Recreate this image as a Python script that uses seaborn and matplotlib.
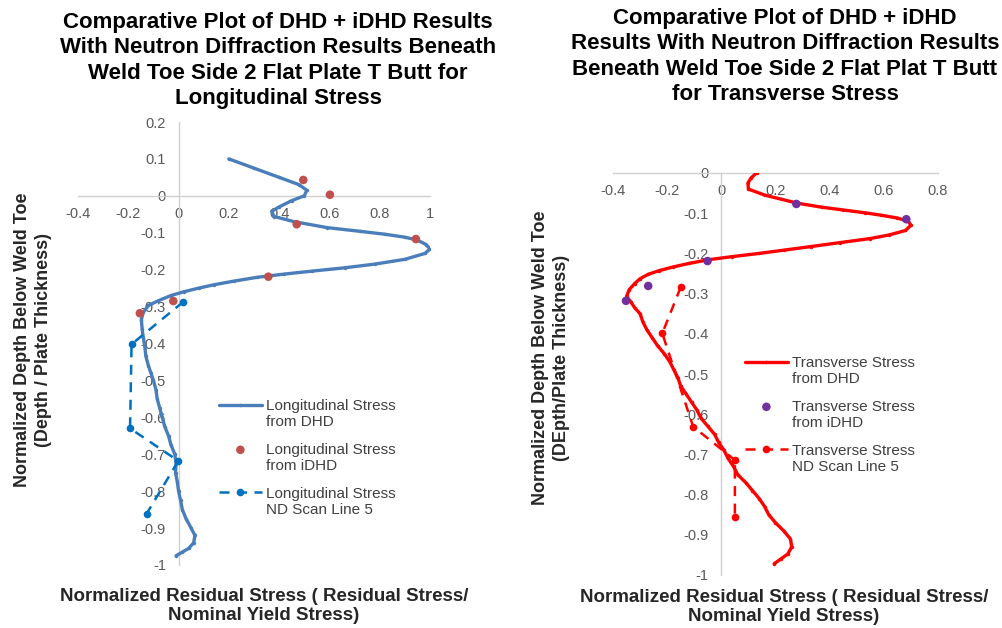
import matplotlib
matplotlib.use("Agg")
import matplotlib.pyplot as plt
from matplotlib.lines import Line2D
from matplotlib.collections import PathCollection
import numpy as np
import seaborn as sns
import pandas as pd

sns.set_theme(style="white")
plt.rcParams["font.family"] = ["Liberation Sans", "DejaVu Sans"]

# ---- Longitudinal stress (left panel) ----
long_dhd_x = [0.20, 0.30, 0.40, 0.48, 0.51, 0.50, 0.45, 0.40, 0.37, 0.38, 0.46, 0.59, 0.72, 0.82,
              0.90, 0.95, 0.985, 1.00, 0.98, 0.90, 0.78, 0.66, 0.53, 0.42, 0.31, 0.22, 0.14, 0.08,
              0.02, -0.03, -0.08, -0.12, -0.14, -0.148, -0.145, -0.14, -0.134, -0.13, -0.12, -0.11,
              -0.10, -0.09, -0.085, -0.075, -0.065, -0.055, -0.04, -0.03, -0.015, -0.01, -0.012,
              -0.005, 0.0, 0.008, 0.015, 0.03, 0.05, 0.065, 0.06, 0.04, 0.015, -0.01]
long_dhd_y = [0.10, 0.075, 0.05, 0.03, 0.015, 0.0, -0.013, -0.03, -0.042, -0.056, -0.070, -0.086,
              -0.096, -0.104, -0.112, -0.120, -0.132, -0.144, -0.156, -0.172, -0.185, -0.195,
              -0.204, -0.212, -0.221, -0.231, -0.241, -0.250, -0.260, -0.270, -0.284, -0.297,
              -0.315, -0.335, -0.36, -0.385, -0.41, -0.435, -0.46, -0.48, -0.50, -0.525, -0.55,
              -0.575, -0.60, -0.625, -0.65, -0.675, -0.70, -0.725, -0.75, -0.775, -0.80, -0.825,
              -0.85, -0.875, -0.90, -0.92, -0.94, -0.955, -0.965, -0.975]
long_idhd_x = [0.496, 0.602, 0.47, 0.944, 0.357, -0.021, -0.154]
long_idhd_y = [0.043, 0.003, -0.077, -0.117, -0.219, -0.285, -0.318]
long_nd_x = [0.019, -0.187, -0.193, -0.001, -0.127]
long_nd_y = [-0.287, -0.402, -0.63, -0.718, -0.861]

# ---- Transverse stress (right panel) ----
tran_dhd_x = [0.13, 0.11, 0.098, 0.10, 0.16, 0.28, 0.37, 0.45, 0.53, 0.59, 0.65, 0.69, 0.70, 0.68,
              0.62, 0.55, 0.44, 0.33, 0.23, 0.14, 0.04, -0.05, -0.12, -0.18, -0.23, -0.27, -0.30,
              -0.32, -0.34, -0.35, -0.335, -0.32, -0.30, -0.29, -0.275, -0.255, -0.235, -0.21,
              -0.19, -0.175, -0.16, -0.15, -0.13, -0.11, -0.09, -0.075, -0.05, -0.025, -0.01,
              0.01, 0.025, 0.045, 0.06, 0.09, 0.115, 0.14, 0.16, 0.175, 0.20, 0.23, 0.255, 0.26,
              0.245, 0.22, 0.195]
tran_dhd_y = [0.0, -0.012, -0.025, -0.040, -0.055, -0.075, -0.085, -0.092, -0.099, -0.105, -0.112,
              -0.12, -0.13, -0.143, -0.154, -0.163, -0.173, -0.183, -0.192, -0.20, -0.208, -0.216,
              -0.225, -0.234, -0.243, -0.252, -0.263, -0.275, -0.29, -0.307, -0.32, -0.335, -0.35,
              -0.37, -0.39, -0.41, -0.43, -0.45, -0.47, -0.49, -0.51, -0.53, -0.55, -0.57, -0.59,
              -0.61, -0.63, -0.65, -0.67, -0.69, -0.71, -0.73, -0.75, -0.77, -0.79, -0.81, -0.83,
              -0.85, -0.87, -0.89, -0.91, -0.93, -0.948, -0.96, -0.972]
tran_idhd_x = [0.277, 0.683, -0.051, -0.27, -0.352]
tran_idhd_y = [-0.077, -0.115, -0.219, -0.281, -0.318]
tran_nd_x = [-0.15, -0.218, -0.104, 0.05, 0.05]
tran_nd_y = [-0.284, -0.399, -0.631, -0.714, -0.855]

left_xticks = [-0.4, -0.2, 0, 0.2, 0.4, 0.6, 0.8, 1]
left_yticks = [0.2, 0.1, 0, -0.1, -0.2, -0.3, -0.4, -0.5, -0.6, -0.7, -0.8, -0.9, -1]
right_xticks = [-0.4, -0.2, 0, 0.2, 0.4, 0.6, 0.8]
right_yticks = [0, -0.1, -0.2, -0.3, -0.4, -0.5, -0.6, -0.7, -0.8, -0.9, -1]

W, H = 1003, 628
fig = plt.figure(figsize=(W / 100, H / 100), dpi=100)
fig.patch.set_facecolor("white")

ax1 = fig.add_axes([78 / W, 1 - 565 / H, 352 / W, 443 / H])
ax2 = fig.add_axes([613 / W, 1 - 575 / H, 325 / W, 402 / H])

AXIS_GREY = "#D0D0D0"
TICK_GREY = "#595959"
TEXT_DARK = "#404040"
LABEL_DARK = "#262626"


def fmt(v):
    return f"{v:g}"


def style_axes(ax, xticks, yticks, xlim, ylim):
    ax.set_xlim(*xlim)
    ax.set_ylim(*ylim)
    for side in ["top", "right"]:
        ax.spines[side].set_visible(False)
    for side in ["left", "bottom"]:
        ax.spines[side].set_position(("data", 0))
        ax.spines[side].set_color(AXIS_GREY)
        ax.spines[side].set_linewidth(1.0)
    ax.set_xticks(xticks)
    ax.set_yticks(yticks)
    ax.set_xticklabels([fmt(v) for v in xticks])
    ax.set_yticklabels([fmt(v) for v in yticks])
    ax.tick_params(axis="both", length=0, labelsize=10.5, colors=TICK_GREY)
    ax.tick_params(axis="x", pad=8)
    ax.tick_params(axis="y", pad=9)
    ax.set_xlabel("")
    ax.set_ylabel("")
    ax.grid(False)
    ax.set_facecolor("none")


def draw_panel(ax, dhd_x, dhd_y, idhd_x, idhd_y, nd_x, nd_y, c_dhd, c_idhd, c_nd, names):
    dhd = pd.DataFrame({"x": dhd_x, "y": dhd_y})
    idhd = pd.DataFrame({"x": idhd_x, "y": idhd_y})
    nd = pd.DataFrame({"x": nd_x, "y": nd_y})
    sns.lineplot(data=dhd, x="x", y="y", sort=False, estimator=None, ax=ax, color=c_dhd,
                 linewidth=2.4, marker="o", markersize=2.5, markeredgewidth=0,
                 label=names[0], zorder=3)
    sns.scatterplot(data=idhd, x="x", y="y", ax=ax, color=c_idhd, s=38, edgecolor="none",
                    label=names[1], zorder=4)
    sns.lineplot(data=nd, x="x", y="y", sort=False, estimator=None, ax=ax, color=c_nd,
                 linewidth=1.8, linestyle=(0, (4, 3)), marker="o", markersize=5.5,
                 markeredgewidth=0, label=names[2], zorder=5)


draw_panel(ax1, long_dhd_x, long_dhd_y, long_idhd_x, long_idhd_y, long_nd_x, long_nd_y,
           "#4A7EBB", "#C0504D", "#0070C0",
           ["Longitudinal Stress\nfrom DHD", "Longitudinal Stress\nfrom iDHD",
            "Longitudinal Stress\nND Scan Line 5"])
draw_panel(ax2, tran_dhd_x, tran_dhd_y, tran_idhd_x, tran_idhd_y, tran_nd_x, tran_nd_y,
           "#FF0000", "#7030A0", "#FF0000",
           ["Transverse Stress\nfrom DHD", "Transverse Stress\nfrom iDHD",
            "Transverse Stress\nND Scan Line 5"])

style_axes(ax1, left_xticks, left_yticks, (-0.4, 1.0), (-1.0, 0.2))
style_axes(ax2, right_xticks, right_yticks, (-0.4, 0.8), (-1.0, 0.0))

# legend keys sit level with the first line of each two-line entry
KEY_LIFT = 7.0  # points
for ax, anchor in [(ax1, (219 / W, 1 - 399 / H)), (ax2, (745 / W, 1 - 356 / H))]:
    leg = ax.legend(loc="upper left", bbox_to_anchor=anchor, bbox_transform=fig.transFigure,
                    frameon=False, fontsize=11, handlelength=2.8, handletextpad=0.3,
                    labelspacing=0.9, borderaxespad=0, borderpad=0)
    for t in leg.get_texts():
        t.set_color(TEXT_DARK)
    for h in leg.legend_handles:
        if isinstance(h, Line2D):
            h.set_ydata(np.asarray(h.get_ydata(), dtype=float) + KEY_LIFT)
        elif isinstance(h, PathCollection):
            offs = np.asarray(h.get_offsets(), dtype=float).copy()
            offs[:, 1] += KEY_LIFT
            h.set_offsets(offs)

fig.text(278 / W, 1 - 12 / H,
         "Comparative Plot of DHD + iDHD Results\nWith Neutron Diffraction Results Beneath\n"
         "Weld Toe Side 2 Flat Plate T Butt for\nLongitudinal Stress",
         ha="center", va="top", fontsize=16, fontweight="bold", color="#000000",
         linespacing=1.27)
fig.text(785 / W, 1 - 8 / H,
         "Comparative Plot of DHD + iDHD\nResults With Neutron Diffraction Results\n"
         "Beneath Weld Toe Side 2 Flat Plat T Butt\nfor Transverse Stress",
         ha="center", va="top", fontsize=16, fontweight="bold", color="#000000",
         linespacing=1.27)

xlab = "Normalized Residual Stress ( Residual Stress/\nNominal Yield Stress)"
fig.text(264 / W, 1 - 606 / H, xlab, ha="center", va="center", fontsize=13.5,
         fontweight="bold", color=LABEL_DARK, linespacing=1.1)
fig.text(784 / W, 1 - 607 / H, xlab, ha="center", va="center", fontsize=13.5,
         fontweight="bold", color=LABEL_DARK, linespacing=1.1)

fig.text(33 / W, 1 - 340 / H, "Normalized Depth Below Weld Toe\n(Depth / Plate Thickness)",
         ha="center", va="center", rotation=90, fontsize=13, fontweight="bold",
         color=LABEL_DARK, linespacing=1.25)
fig.text(551 / W, 1 - 358 / H, "Normalized Depth Below Weld Toe\n(DEpth/Plate Thickness)",
         ha="center", va="center", rotation=90, fontsize=13, fontweight="bold",
         color=LABEL_DARK, linespacing=1.25)

fig.savefig("out.png", dpi=100, facecolor="white")
